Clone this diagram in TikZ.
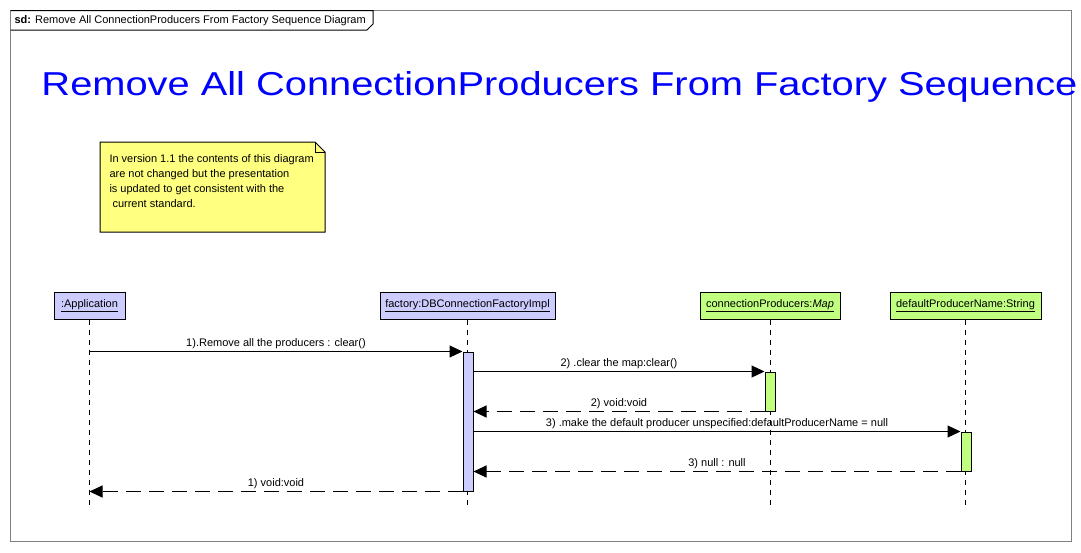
\documentclass[tikz,border=0pt]{standalone}
\usepackage{fontspec}
\setmainfont{Liberation Sans}
\usepackage{xcolor}
\usepackage{tikz}
\usetikzlibrary{arrows.meta,positioning}

\definecolor{headblue}{RGB}{204,204,255}
\definecolor{headgreen}{RGB}{192,255,128}
\definecolor{noteyellow}{RGB}{255,255,128}
\definecolor{framegray}{RGB}{128,128,128}

\begin{document}
\begin{tikzpicture}[x=1pt,y=-1pt,line width=1pt,>={Triangle[length=13pt,width=12pt]},
  font=\fontsize{11}{13}\selectfont]
\tikzstyle{head}=[draw=black,minimum height=27pt,inner xsep=2pt,inner ysep=0pt]
\tikzstyle{bar}=[draw=black,minimum width=10pt,inner sep=0pt]
\tikzstyle{life}=[dash pattern=on 5pt off 5pt]
\tikzstyle{call}=[->]
\tikzstyle{ret}=[->,dash pattern=on 15pt off 8pt]
\tikzstyle{msg}=[above,inner sep=2pt]
\useasboundingbox (0,0) rectangle (1081,552);
% frame and tab
\draw[framegray] (10.5,10.5) rectangle (1071.5,541.5);
\draw (10.5,10.5) -- (373,10.5) -- (373,24) -- (367,30) -- (10.5,30);
\node[anchor=west,inner sep=0pt] (sd) at (14,20.5) {\textbf{sd:} Remove All ConnectionProducers From Factory Sequence Diagram};
\node[anchor=base west,inner sep=0pt,text=blue] (title) at (41,95)
  {\resizebox{1036pt}{24pt}{\fontsize{32}{38}\selectfont Remove All ConnectionProducers From Factory Sequence}};
% note
\draw[fill=noteyellow] (100,142) -- (315,142) -- (325,152) -- (325,232) -- (100,232) -- cycle;
\draw (315,142) -- (315,152) -- (325,152);
\node[anchor=north west,align=left,inner sep=0pt,font=\fontsize{11}{15}\selectfont] (note) at (109,154)
  {In version 1.1 the contents of this diagram\\are not changed but the presentation\\is updated to get consistent with the\\\ current standard.};
% lifelines
\node[head,fill=headblue,minimum width=71pt] (app) at (89.5,305.5) {\underline{:Application}};
\node[head,fill=headblue,minimum width=175pt] (fac) at (467.5,305.5) {\underline{factory:DBConnectionFactoryImpl}};
\node[head,fill=headgreen,minimum width=140pt] (map) at (770,305.5) {\underline{connectionProducers:\textit{Map}}};
\node[head,fill=headgreen,minimum width=151pt] (str) at (965.5,305.5) {\underline{defaultProducerName:String}};
\coordinate (end) at (0,508);
\foreach \n in {app,fac,map,str}
  \draw[life] (\n.south) -- (\n.south |- end);
% activations
\node[bar,fill=headblue,minimum height=139pt] (facbar) at (468,421.5) {};
\node[bar,fill=headgreen,minimum height=39pt] (mapbar) at (770,391.5) {};
\node[bar,fill=headgreen,minimum height=39pt] (strbar) at (966,451.5) {};
% messages
\draw[call] (app.south |- facbar.north) -- node[msg] {1).Remove all the producers : clear()} (facbar.north west);
\draw[call] (facbar.east |- mapbar.north) -- node[msg] {2) .clear the map:clear()} (mapbar.north west);
\draw[ret] (mapbar.south west) -- node[msg] {2) void:void} (facbar.east |- mapbar.south);
\draw[call] (facbar.east |- strbar.north) -- node[msg] {3) .make the default producer unspecified:defaultProducerName = null} (strbar.north west);
\draw[ret] (strbar.south west) -- node[msg] {3) null : null} (facbar.east |- strbar.south);
\draw[ret] (facbar.south west) -- node[msg] {1) void:void} (app.south |- facbar.south);
\end{tikzpicture}
\end{document}
